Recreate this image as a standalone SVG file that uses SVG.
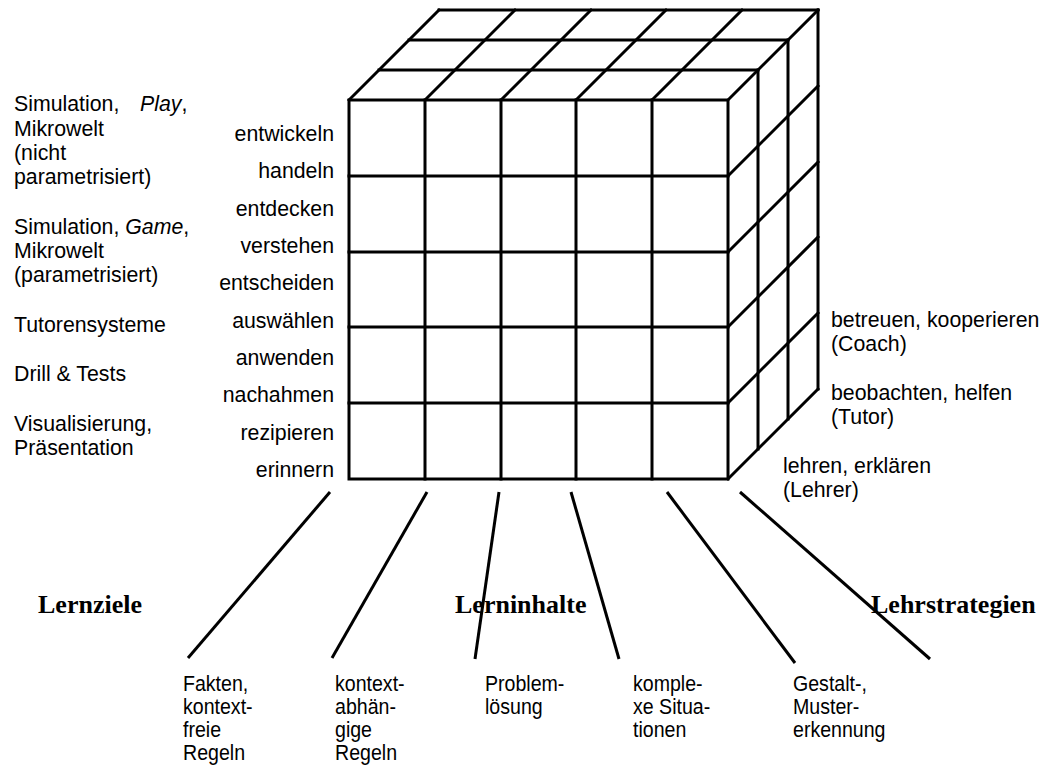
<svg xmlns="http://www.w3.org/2000/svg" width="1051" height="766" viewBox="0 0 1051 766">
  <style>
    .grid { stroke: #000; stroke-width: 3; fill: none; stroke-linecap: square; }
    .conn { stroke: #000; stroke-width: 3; fill: none; }
    .lbl { font-family: "Liberation Sans", Arial, sans-serif; font-size: 21.3px; fill: #000; }
    .lblr { font-family: "Liberation Sans", Arial, sans-serif; font-size: 21.3px; fill: #000; text-anchor: end; }
    .small { font-family: "Liberation Sans", Arial, sans-serif; font-size: 22px; fill: #000; }
    .axis { font-family: "Liberation Serif", "Times New Roman", serif; font-size: 26px; font-weight: bold; fill: #000; }
    .it { font-style: italic; }
  </style>
  <rect width="1051" height="766" fill="#fff"/>

  <!-- Cube: front face 5x5, top and right faces 3 layers deep -->
  <g id="cube">
    <g id="front-face" class="grid">
      <rect x="349" y="100" width="379" height="379"/>
      <path d="M425 100V479M501 100V479M576 100V479M652 100V479"/>
      <path d="M349 176H728M349 252H728M349 327H728M349 403H728"/>
    </g>
    <g id="top-face" class="grid">
      <path d="M379 70H758M409 40H788M439 10H818"/>
      <path d="M349 100L439 10M425 100L515 10M501 100L591 10M576 100L666 10M652 100L742 10M728 100L818 10"/>
    </g>
    <g id="right-face" class="grid">
      <path d="M758 70V449M788 40V419M818 10V389"/>
      <path d="M728 176L818 86M728 252L818 162M728 327L818 237M728 403L818 313M728 479L818 389"/>
    </g>
  </g>

  <!-- Media types (left column) -->
  <g id="media-labels">
    <text class="lbl" x="14" y="111">Simulation,<tspan x="140" class="it">Play</tspan>,</text>
    <text class="lbl" x="14" y="136">Mikrowelt</text>
    <text class="lbl" x="14" y="160">(nicht</text>
    <text class="lbl" x="14" y="184">parametrisiert)</text>
    <text class="lbl" x="14" y="234">Simulation, <tspan class="it">Game</tspan>,</text>
    <text class="lbl" x="14" y="258">Mikrowelt</text>
    <text class="lbl" x="14" y="282">(parametrisiert)</text>
    <text class="lbl" x="14" y="332">Tutorensysteme</text>
    <text class="lbl" x="14" y="381">Drill &amp; Tests</text>
    <text class="lbl" x="14" y="431">Visualisierung,</text>
    <text class="lbl" x="14" y="455">Präsentation</text>
  </g>

  <!-- Learning goal levels beside the front face -->
  <g id="goal-labels">
    <text class="lblr" x="334" y="141">entwickeln</text>
    <text class="lblr" x="334" y="178">handeln</text>
    <text class="lblr" x="334" y="216">entdecken</text>
    <text class="lblr" x="334" y="253">verstehen</text>
    <text class="lblr" x="334" y="290">entscheiden</text>
    <text class="lblr" x="334" y="328">auswählen</text>
    <text class="lblr" x="334" y="365">anwenden</text>
    <text class="lblr" x="334" y="402">nachahmen</text>
    <text class="lblr" x="334" y="440">rezipieren</text>
    <text class="lblr" x="334" y="477">erinnern</text>
  </g>

  <!-- Teaching roles (right side) -->
  <g id="role-labels">
    <text class="lbl" x="831" y="327">betreuen, kooperieren</text>
    <text class="lbl" x="831" y="351">(Coach)</text>
    <text class="lbl" x="831" y="400">beobachten, helfen</text>
    <text class="lbl" x="831" y="424">(Tutor)</text>
    <text class="lbl" x="783" y="473">lehren, erklären</text>
    <text class="lbl" x="783" y="497">(Lehrer)</text>
  </g>

  <!-- Fan of lines below the cube -->
  <g id="connectors" class="conn">
    <line x1="330" y1="492" x2="188" y2="658"/>
    <line x1="427" y1="492" x2="332" y2="658"/>
    <line x1="499" y1="492" x2="475" y2="659"/>
    <line x1="571" y1="492" x2="619" y2="659"/>
    <line x1="667" y1="492" x2="795" y2="663"/>
    <line x1="740" y1="492" x2="930" y2="659"/>
  </g>

  <!-- Axis titles -->
  <g id="axis-titles">
    <text class="axis" x="38" y="613">Lernziele</text>
    <text class="axis" x="455" y="613">Lerninhalte</text>
    <text class="axis" x="871" y="613">Lehrstrategien</text>
  </g>

  <!-- Content types (bottom), set in a narrowed face -->
  <g id="content-labels">
    <g id="content-1" transform="translate(183 0) scale(0.89 1)">
      <text class="small" x="0" y="691">Fakten,</text>
      <text class="small" x="0" y="714">kontext-</text>
      <text class="small" x="0" y="737">freie</text>
      <text class="small" x="0" y="760">Regeln</text>
    </g>
    <g id="content-2" transform="translate(335 0) scale(0.89 1)">
      <text class="small" x="0" y="691">kontext-</text>
      <text class="small" x="0" y="714">abhän-</text>
      <text class="small" x="0" y="737">gige</text>
      <text class="small" x="0" y="760">Regeln</text>
    </g>
    <g id="content-3" transform="translate(485 0) scale(0.89 1)">
      <text class="small" x="0" y="691">Problem-</text>
      <text class="small" x="0" y="714">lösung</text>
    </g>
    <g id="content-4" transform="translate(633 0) scale(0.89 1)">
      <text class="small" x="0" y="691">komple-</text>
      <text class="small" x="0" y="714">xe Situa-</text>
      <text class="small" x="0" y="737">tionen</text>
    </g>
    <g id="content-5" transform="translate(793 0) scale(0.89 1)">
      <text class="small" x="0" y="691">Gestalt-,</text>
      <text class="small" x="0" y="714">Muster-</text>
      <text class="small" x="0" y="737">erkennung</text>
    </g>
  </g>
</svg>
